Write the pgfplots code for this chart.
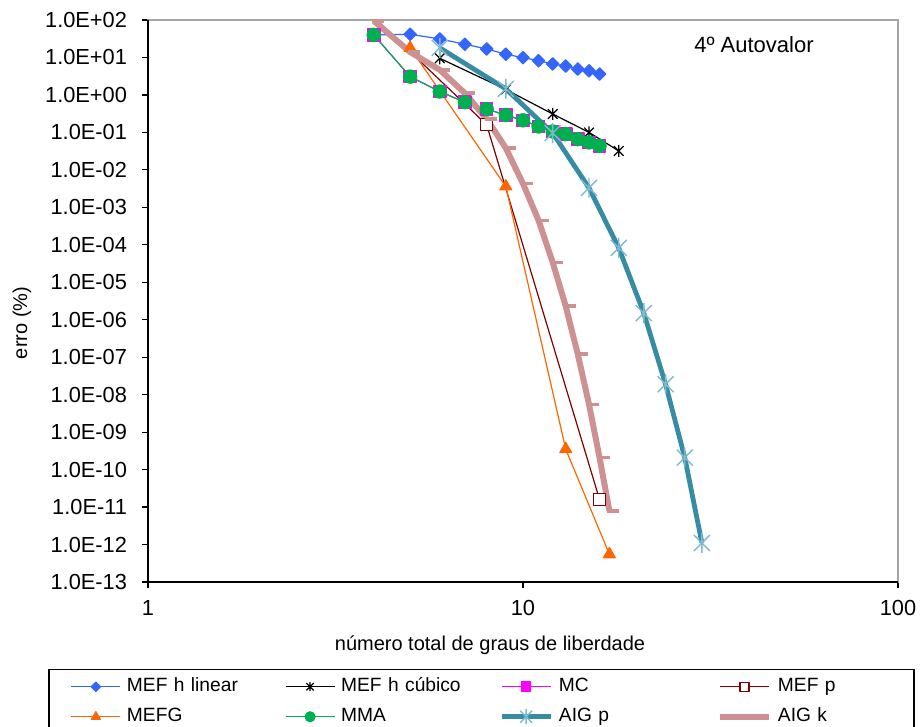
\documentclass[border=0pt]{standalone}
\usepackage{fontspec}
\setmainfont{Liberation Sans}
\usepackage{pgfplots}
\pgfplotsset{compat=1.18}

\definecolor{cBlue}{RGB}{51,102,255}
\definecolor{cMag}{RGB}{255,0,255}
\definecolor{cMaroon}{RGB}{128,0,0}
\definecolor{cOrange}{RGB}{255,102,0}
\definecolor{cGreen}{RGB}{0,176,80}
\definecolor{cTeal}{RGB}{55,140,165}
\definecolor{cTealL}{RGB}{125,188,208}
\definecolor{cRose}{RGB}{205,145,145}
\definecolor{cFrame}{RGB}{165,165,165}

% vertical bar plus an X, as in spreadsheet "star" markers
\pgfdeclareplotmark{xstar}{%
  \pgfpathmoveto{\pgfqpoint{0pt}{\pgfplotmarksize}}%
  \pgfpathlineto{\pgfqpoint{0pt}{-\pgfplotmarksize}}%
  \pgfpathmoveto{\pgfqpoint{-.8\pgfplotmarksize}{.8\pgfplotmarksize}}%
  \pgfpathlineto{\pgfqpoint{.8\pgfplotmarksize}{-.8\pgfplotmarksize}}%
  \pgfpathmoveto{\pgfqpoint{-.8\pgfplotmarksize}{-.8\pgfplotmarksize}}%
  \pgfpathlineto{\pgfqpoint{.8\pgfplotmarksize}{.8\pgfplotmarksize}}%
  \pgfusepathqstroke}
% short horizontal dash, leaning to the right of the point
\pgfdeclareplotmark{rdash}{%
  \pgfpathmoveto{\pgfqpoint{-.2\pgfplotmarksize}{0pt}}%
  \pgfpathlineto{\pgfqpoint{\pgfplotmarksize}{0pt}}%
  \pgfusepathqstroke}

\begin{document}
\begin{tikzpicture}
\useasboundingbox (-74pt,-72.5pt) rectangle (387.5pt,291pt);
\begin{axis}[
  at={(0,0)}, anchor=south west,
  scale only axis, width=375pt, height=281pt,
  xmode=log, ymode=log,
  xmin=1, xmax=100, ymin=1e-13, ymax=1e2,
  xtick={1,10,100}, xticklabels={1,10,100},
  ytick={1e-13,1e-12,1e-11,1e-10,1e-9,1e-8,1e-7,1e-6,1e-5,1e-4,1e-3,1e-2,1e-1,1,1e1,1e2},
  yticklabels={1.0E-13,1.0E-12,1.0E-11,1.0E-10,1.0E-09,1.0E-08,1.0E-07,1.0E-06,1.0E-05,1.0E-04,1.0E-03,1.0E-02,1.0E-01,1.0E+00,1.0E+01,1.0E+02},
  xminorticks=false, yminorticks=false,
  tick align=outside, tick pos=left,
  major tick length=3pt,
  major tick style={black, line width=0.6pt},
  axis line style={cFrame, line width=0.6pt},
  tick label style={font=\fontsize{10.9}{13}\selectfont},
  yticklabel style={xshift=-4pt},
  xticklabel style={yshift=-2.5pt},
  xlabel={número total de graus de liberdade},
  ylabel={erro (\%)},
  label style={font=\fontsize{11.5}{14}\selectfont},
  every axis x label/.style={at={(axis description cs:0.456,-0.112)}, anchor=center},
  every axis y label/.style={at={(axis description cs:-0.168,0.461)}, anchor=center, rotate=90},
  legend columns=4,
  legend image code/.code={%
    \draw[mark repeat=2,mark phase=2,#1,every mark/.append style={scale=0.75}]
      plot coordinates {(0pt,0pt) (12.25pt,0pt) (24.5pt,0pt)};},
  legend style={
    at={(-0.1333,-0.1548)}, anchor=north west,
    draw=black, line width=0.75pt,
    inner xsep=11pt, inner ysep=1pt,
    font=\fontsize{9.6}{11}\selectfont,
    nodes={text width=54pt, text height=7pt, text depth=2pt, inner sep=3pt},
    /tikz/every even column/.append style={column sep=22pt},
    row sep=0pt,
  },
  legend cell align=left,
  every axis plot/.append style={line join=round},
  after end axis/.code={\draw[black, line width=0.75pt] (rel axis cs:0,1) -- (rel axis cs:0,0) -- (rel axis cs:1,0);},
]

% MEF h linear
\addplot[cBlue, line width=0.6pt, mark=square*, mark size=2.2pt,
  mark options={rotate=45, fill=cBlue}] table {
x y
4 40
5 41.6
6 31.2
7 22.5
8 16.9
9 12.2
10 9.9
11 8.2
12 6.7
13 5.9
14 4.9
15 4.4
16 3.6
};
\addlegendentry{\mbox{MEF h linear}}

% MEF h cubico
\addplot[black, line width=0.6pt, mark=xstar, mark size=3pt] table {
x y
6 9.5
9 1.4
12 0.31
15 0.10
18 0.032
};
\addlegendentry{\mbox{MEF h cúbico}}

% MC
\addplot[cMag, line width=0.6pt, mark=square*, mark size=3.1pt] table {
x y
4 40
5 3.08
6 1.23
7 0.64
8 0.42
9 0.29
10 0.21
11 0.144
12 0.106
13 0.090
14 0.066
15 0.054
16 0.044
};
\addlegendentry{\mbox{MC}}

% MEF p
\addplot[cMaroon, line width=0.6pt, mark=square*, mark size=3pt,
  mark options={fill=white}] table {
x y
4 120
8 0.16
16 1.6e-11
};
\addlegendentry{\mbox{MEF p}}

% MEFG
\addplot[cOrange, line width=0.6pt, mark=triangle*, mark size=3.4pt] table {
x y
5 18
9 3.6e-3
13 3.5e-10
17 5.5e-13
};
\addlegendentry{\mbox{MEFG}}

% MMA
\addplot[cGreen, line width=0.6pt, mark=*, mark size=3.3pt] table {
x y
4 40
5 3.08
6 1.23
7 0.64
8 0.42
9 0.29
10 0.21
11 0.144
12 0.106
13 0.090
14 0.066
15 0.054
16 0.044
};
\addlegendentry{\mbox{MMA}}

% AIG p
\addplot[cTeal, line width=2.4pt, mark=xstar, mark size=5pt,
  mark options={cTealL, line width=0.7pt}] table {
x y
6 18
9 1.45
12 0.096
15 3.3e-3
18 8.3e-5
21 1.5e-6
24 1.9e-8
27 2.1e-10
30 1.1e-12
};
\addlegendentry{\mbox{AIG p}}

% AIG k
\addplot[cRose, line width=3pt, mark=rdash, mark size=5pt,
  mark options={line width=1.8pt}] table {
x y
4 95
5 14
6 4.65
7 1.11
8 0.23
9 0.038
10 4.3e-3
11 4.5e-4
12 3.4e-5
13 2.3e-6
14 1.2e-7
15 5.5e-9
16 2.1e-10
17 7.9e-12
};
\addlegendentry{\mbox{AIG k}}

\node[font=\fontsize{11}{13}\selectfont] at (axis cs:41.3,21.6) {4º Autovalor};
\end{axis}
\end{tikzpicture}
\end{document}
